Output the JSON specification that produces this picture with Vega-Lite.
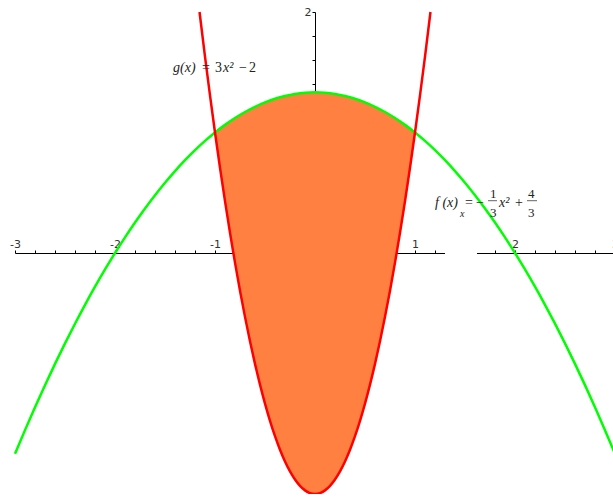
{
  "$schema": "https://vega.github.io/schema/vega-lite/v6.json",
  "width": 600,
  "height": 482,
  "autosize": "none",
  "padding": {"left": 15, "top": 12, "right": 0, "bottom": 0},
  "background": "white",
  "config": {"view": {"stroke": null}},
  "datasets": {
    "f": [
      {"x": -3, "y": -1.6667}, {"x": -2.9, "y": -1.47}, {"x": -2.8, "y": -1.28}, {"x": -2.7, "y": -1.0967},
      {"x": -2.6, "y": -0.92}, {"x": -2.5, "y": -0.75}, {"x": -2.4, "y": -0.5867}, {"x": -2.3, "y": -0.43},
      {"x": -2.2, "y": -0.28}, {"x": -2.1, "y": -0.1367}, {"x": -2, "y": 0}, {"x": -1.9, "y": 0.13},
      {"x": -1.8, "y": 0.2533}, {"x": -1.7, "y": 0.37}, {"x": -1.6, "y": 0.48}, {"x": -1.5, "y": 0.5833},
      {"x": -1.4, "y": 0.68}, {"x": -1.3, "y": 0.77}, {"x": -1.2, "y": 0.8533}, {"x": -1.1, "y": 0.93},
      {"x": -1, "y": 1}, {"x": -0.9, "y": 1.0633}, {"x": -0.8, "y": 1.12}, {"x": -0.7, "y": 1.17},
      {"x": -0.6, "y": 1.2133}, {"x": -0.5, "y": 1.25}, {"x": -0.4, "y": 1.28}, {"x": -0.3, "y": 1.3033},
      {"x": -0.2, "y": 1.32}, {"x": -0.1, "y": 1.33}, {"x": 0, "y": 1.3333},
      {"x": 0.1, "y": 1.33}, {"x": 0.2, "y": 1.32}, {"x": 0.3, "y": 1.3033}, {"x": 0.4, "y": 1.28},
      {"x": 0.5, "y": 1.25}, {"x": 0.6, "y": 1.2133}, {"x": 0.7, "y": 1.17}, {"x": 0.8, "y": 1.12},
      {"x": 0.9, "y": 1.0633}, {"x": 1, "y": 1}, {"x": 1.1, "y": 0.93}, {"x": 1.2, "y": 0.8533},
      {"x": 1.3, "y": 0.77}, {"x": 1.4, "y": 0.68}, {"x": 1.5, "y": 0.5833}, {"x": 1.6, "y": 0.48},
      {"x": 1.7, "y": 0.37}, {"x": 1.8, "y": 0.2533}, {"x": 1.9, "y": 0.13}, {"x": 2, "y": 0},
      {"x": 2.1, "y": -0.1367}, {"x": 2.2, "y": -0.28}, {"x": 2.3, "y": -0.43}, {"x": 2.4, "y": -0.5867},
      {"x": 2.5, "y": -0.75}, {"x": 2.6, "y": -0.92}, {"x": 2.7, "y": -1.0967}, {"x": 2.8, "y": -1.28},
      {"x": 2.9, "y": -1.47}, {"x": 3, "y": -1.6667}
    ],
    "g": [
      {"x": -1.1547, "y": 2}, {"x": -1.1, "y": 1.63}, {"x": -1.05, "y": 1.3075}, {"x": -1, "y": 1},
      {"x": -0.95, "y": 0.7075}, {"x": -0.9, "y": 0.43}, {"x": -0.85, "y": 0.1675}, {"x": -0.8, "y": -0.08},
      {"x": -0.75, "y": -0.3125}, {"x": -0.7, "y": -0.53}, {"x": -0.65, "y": -0.7325}, {"x": -0.6, "y": -0.92},
      {"x": -0.55, "y": -1.0925}, {"x": -0.5, "y": -1.25}, {"x": -0.45, "y": -1.3925}, {"x": -0.4, "y": -1.52},
      {"x": -0.35, "y": -1.6325}, {"x": -0.3, "y": -1.73}, {"x": -0.25, "y": -1.8125}, {"x": -0.2, "y": -1.88},
      {"x": -0.15, "y": -1.9325}, {"x": -0.1, "y": -1.97}, {"x": -0.05, "y": -1.9925}, {"x": 0, "y": -2},
      {"x": 0.05, "y": -1.9925}, {"x": 0.1, "y": -1.97}, {"x": 0.15, "y": -1.9325}, {"x": 0.2, "y": -1.88},
      {"x": 0.25, "y": -1.8125}, {"x": 0.3, "y": -1.73}, {"x": 0.35, "y": -1.6325}, {"x": 0.4, "y": -1.52},
      {"x": 0.45, "y": -1.3925}, {"x": 0.5, "y": -1.25}, {"x": 0.55, "y": -1.0925}, {"x": 0.6, "y": -0.92},
      {"x": 0.65, "y": -0.7325}, {"x": 0.7, "y": -0.53}, {"x": 0.75, "y": -0.3125}, {"x": 0.8, "y": -0.08},
      {"x": 0.85, "y": 0.1675}, {"x": 0.9, "y": 0.43}, {"x": 0.95, "y": 0.7075}, {"x": 1, "y": 1},
      {"x": 1.05, "y": 1.3075}, {"x": 1.1, "y": 1.63}, {"x": 1.1547, "y": 2}
    ],
    "region": [
      {"x": -1, "y": 1, "y2": 1}, {"x": -0.95, "y": 1.0325, "y2": 0.7075}, {"x": -0.9, "y": 1.0633, "y2": 0.43},
      {"x": -0.85, "y": 1.0925, "y2": 0.1675}, {"x": -0.8, "y": 1.12, "y2": -0.08}, {"x": -0.75, "y": 1.1458, "y2": -0.3125},
      {"x": -0.7, "y": 1.17, "y2": -0.53}, {"x": -0.65, "y": 1.1925, "y2": -0.7325}, {"x": -0.6, "y": 1.2133, "y2": -0.92},
      {"x": -0.55, "y": 1.2325, "y2": -1.0925}, {"x": -0.5, "y": 1.25, "y2": -1.25}, {"x": -0.45, "y": 1.2658, "y2": -1.3925},
      {"x": -0.4, "y": 1.28, "y2": -1.52}, {"x": -0.35, "y": 1.2925, "y2": -1.6325}, {"x": -0.3, "y": 1.3033, "y2": -1.73},
      {"x": -0.25, "y": 1.3125, "y2": -1.8125}, {"x": -0.2, "y": 1.32, "y2": -1.88}, {"x": -0.15, "y": 1.3258, "y2": -1.9325},
      {"x": -0.1, "y": 1.33, "y2": -1.97}, {"x": -0.05, "y": 1.3325, "y2": -1.9925}, {"x": 0, "y": 1.3333, "y2": -2},
      {"x": 0.05, "y": 1.3325, "y2": -1.9925}, {"x": 0.1, "y": 1.33, "y2": -1.97}, {"x": 0.15, "y": 1.3258, "y2": -1.9325},
      {"x": 0.2, "y": 1.32, "y2": -1.88}, {"x": 0.25, "y": 1.3125, "y2": -1.8125}, {"x": 0.3, "y": 1.3033, "y2": -1.73},
      {"x": 0.35, "y": 1.2925, "y2": -1.6325}, {"x": 0.4, "y": 1.28, "y2": -1.52}, {"x": 0.45, "y": 1.2658, "y2": -1.3925},
      {"x": 0.5, "y": 1.25, "y2": -1.25}, {"x": 0.55, "y": 1.2325, "y2": -1.0925}, {"x": 0.6, "y": 1.2133, "y2": -0.92},
      {"x": 0.65, "y": 1.1925, "y2": -0.7325}, {"x": 0.7, "y": 1.17, "y2": -0.53}, {"x": 0.75, "y": 1.1458, "y2": -0.3125},
      {"x": 0.8, "y": 1.12, "y2": -0.08}, {"x": 0.85, "y": 1.0925, "y2": 0.1675}, {"x": 0.9, "y": 1.0633, "y2": 0.43},
      {"x": 0.95, "y": 1.0325, "y2": 0.7075}, {"x": 1, "y": 1, "y2": 1}
    ],
    "gap": [{"x": 1.3, "x2": 1.62, "y": -0.025, "y2": 0.045}],
    "italic": [
      {"x": -1.42, "y": 1.502, "t": "g(x)"}, {"x": -0.92, "y": 1.502, "t": "x²"},
      {"x": 1.2, "y": 0.382, "t": "f (x)"}, {"x": 1.84, "y": 0.382, "t": "x²"}
    ],
    "upright": [
      {"x": -1.13, "y": 1.502, "t": "="}, {"x": -1.0, "y": 1.502, "t": "3"},
      {"x": -0.76, "y": 1.502, "t": "−"}, {"x": -0.66, "y": 1.502, "t": "2"},
      {"x": 1.5, "y": 0.382, "t": "="}, {"x": 1.61, "y": 0.382, "t": "−"}, {"x": 2.0, "y": 0.382, "t": "+"}
    ],
    "sub": [{"x": 1.45, "y": 0.299, "t": "x"}],
    "frac": [
      {"x": 1.75, "y": 0.456, "t": "1"}, {"x": 1.75, "y": 0.299, "t": "3"},
      {"x": 2.13, "y": 0.456, "t": "4"}, {"x": 2.13, "y": 0.299, "t": "3"}
    ],
    "bars": [{"x": 1.73, "x2": 1.82, "y": 0.434}, {"x": 2.12, "x2": 2.22, "y": 0.434}]
  },
  "encoding": {
    "x": {
      "field": "x", "type": "quantitative",
      "scale": {"domain": [-3, 3], "nice": false, "zero": false},
      "axis": {
        "orient": "top", "offset": -241, "title": null, "grid": false,
        "values": [-3, -2.8, -2.6, -2.4, -2.2, -2, -1.8, -1.6, -1.4, -1.2, -1, -0.8, -0.6, -0.4, -0.2, 0, 0.2, 0.4, 0.6, 0.8, 1, 1.2, 1.4, 1.6, 1.8, 2, 2.2, 2.4, 2.6, 2.8, 3],
        "labelExpr": "datum.value % 1 === 0 ? '' + datum.value : ''",
        "tickSize": 3, "labelPadding": 1, "domainColor": "black", "tickColor": "black",
        "labelFont": "DejaVu Sans", "labelFontSize": 11, "labelColor": "#333",
        "labelOverlap": false, "labelBound": false, "labelFlush": false
      }
    },
    "y": {
      "field": "y", "type": "quantitative",
      "scale": {"domain": [-2, 2], "nice": false, "zero": false},
      "axis": {
        "orient": "left", "offset": -300, "title": null, "grid": false,
        "values": [-2, -1.8, -1.6, -1.4, -1.2, -1, -0.8, -0.6, -0.4, -0.2, 0, 0.2, 0.4, 0.6, 0.8, 1, 1.2, 1.4, 1.6, 1.8, 2],
        "labelExpr": "datum.value % 1 === 0 ? '' + datum.value : ''",
        "tickSize": 3, "labelPadding": 1, "domainColor": "black", "tickColor": "black",
        "labelFont": "DejaVu Sans", "labelFontSize": 11, "labelColor": "#333",
        "labelOverlap": false, "labelBound": false, "labelFlush": false
      }
    }
  },
  "layer": [
    {
      "data": {"name": "gap"},
      "mark": {"type": "rect", "color": "white"},
      "encoding": {"x2": {"field": "x2"}, "y2": {"field": "y2"}}
    },
    {
      "data": {"name": "region"},
      "mark": {"type": "area", "color": "#FF8040", "opacity": 1, "interpolate": "monotone"},
      "encoding": {"y2": {"field": "y2"}}
    },
    {
      "data": {"name": "f"},
      "mark": {"type": "line", "color": "#00FF00", "strokeWidth": 2.5, "interpolate": "monotone"}
    },
    {
      "data": {"name": "g"},
      "mark": {"type": "line", "color": "#FF0000", "strokeWidth": 2.5, "interpolate": "monotone"}
    },
    {
      "data": {"name": "italic"},
      "mark": {"type": "text", "align": "left", "baseline": "alphabetic", "font": "Liberation Serif", "fontSize": 14, "fontStyle": "italic", "color": "#222"},
      "encoding": {"text": {"field": "t"}}
    },
    {
      "data": {"name": "upright"},
      "mark": {"type": "text", "align": "left", "baseline": "alphabetic", "font": "Liberation Serif", "fontSize": 14, "color": "#222"},
      "encoding": {"text": {"field": "t"}}
    },
    {
      "data": {"name": "sub"},
      "mark": {"type": "text", "align": "left", "baseline": "alphabetic", "font": "Liberation Serif", "fontSize": 10, "fontStyle": "italic", "color": "#222"},
      "encoding": {"text": {"field": "t"}}
    },
    {
      "data": {"name": "frac"},
      "mark": {"type": "text", "align": "left", "baseline": "alphabetic", "font": "Liberation Serif", "fontSize": 13, "color": "#222"},
      "encoding": {"text": {"field": "t"}}
    },
    {
      "data": {"name": "bars"},
      "mark": {"type": "rule", "color": "#666", "strokeWidth": 1},
      "encoding": {"x2": {"field": "x2"}}
    }
  ]
}
